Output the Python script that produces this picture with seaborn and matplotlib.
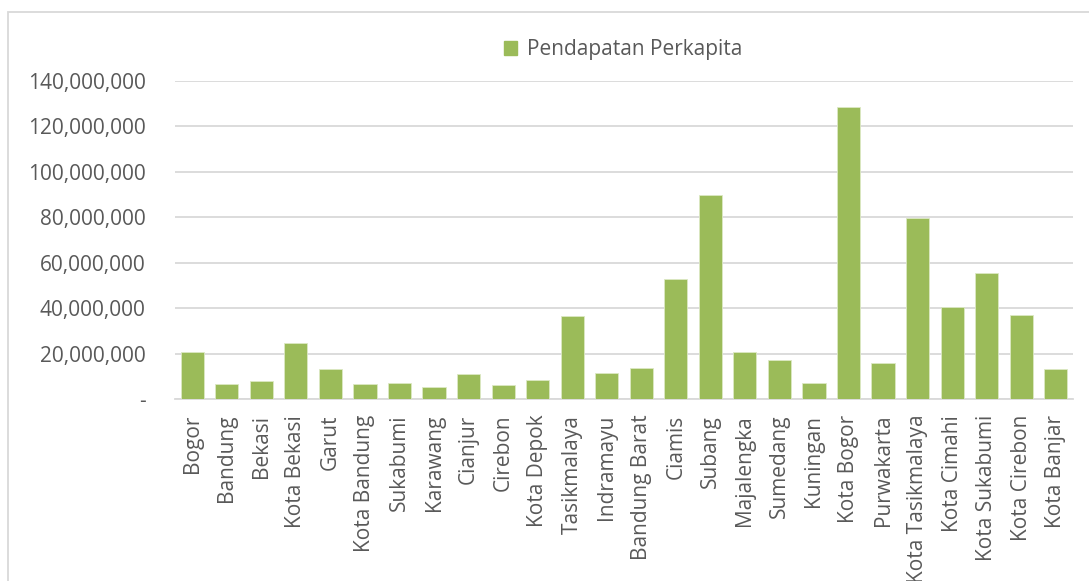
import matplotlib
matplotlib.use("Agg")
import matplotlib.pyplot as plt
import matplotlib.patches as mpatches
import matplotlib.ticker as mticker
import pandas as pd
import seaborn as sns

# Per-capita income by regency / city
regions = [
    "Bogor", "Bandung", "Bekasi", "Kota Bekasi", "Garut", "Kota Bandung",
    "Sukabumi", "Karawang", "Cianjur", "Cirebon", "Kota Depok", "Tasikmalaya",
    "Indramayu", "Bandung Barat", "Ciamis", "Subang", "Majalengka", "Sumedang",
    "Kuningan", "Kota Bogor", "Purwakarta", "Kota Tasikmalaya", "Kota Cimahi",
    "Kota Sukabumi", "Kota Cirebon", "Kota Banjar",
]
income = [
    20_900_000, 6_900_000, 8_300_000, 25_000_000, 13_400_000, 6_700_000,
    7_200_000, 5_500_000, 11_400_000, 6_400_000, 8_400_000, 36_800_000,
    11_800_000, 13_800_000, 52_800_000, 89_900_000, 20_900_000, 17_200_000,
    7_100_000, 128_600_000, 16_200_000, 79_600_000, 40_700_000,
    55_500_000, 37_100_000, 13_300_000,
]
series_name = "Pendapatan Perkapita"
y_ticks = [0, 20_000_000, 40_000_000, 60_000_000, 80_000_000,
           100_000_000, 120_000_000, 140_000_000]

df = pd.DataFrame({"Wilayah": regions, series_name: income})

sns.set_theme(style="white")
plt.rcParams["font.family"] = ["Open Sans", "DejaVu Sans"]

BAR = "#9BBB59"
TEXT = "#595959"
GRID = "#D9D9D9"
FS = 15

fig = plt.figure(figsize=(10.89, 5.81), dpi=100)
ax = fig.add_axes([0.1607, 0.3124, 0.8246, 0.5482])

sns.barplot(data=df, x="Wilayah", y=series_name, color=BAR, saturation=1,
            width=0.67, edgecolor="#DCE8C4", linewidth=0.6, ax=ax, zorder=3)

ax.set_ylim(0, 140_000_000)
ax.set_xlim(-0.5, len(regions) - 0.5)
ax.set_yticks(y_ticks)
ax.yaxis.set_major_formatter(
    mticker.FuncFormatter(lambda v, _: "-" if v == 0 else f"{int(v):,}"))
ax.grid(axis="y", color=GRID, linewidth=1.3, zorder=0)
ax.set_axisbelow(True)
for s in ("top", "right", "left"):
    ax.spines[s].set_visible(False)
ax.spines["bottom"].set_color(GRID)
ax.spines["bottom"].set_linewidth(1.3)

ax.set_xlabel("")
ax.set_ylabel("")
ax.tick_params(axis="y", length=0, pad=21, labelsize=FS, labelcolor=TEXT)
ax.tick_params(axis="x", length=0, pad=11, labelsize=FS, labelcolor=TEXT)
plt.setp(ax.get_xticklabels(), rotation=90, ha="center", va="top")

# legend at the top
handle = mpatches.Patch(color=BAR, label=series_name)
fig.legend(handles=[handle], loc="center", bbox_to_anchor=(0.572, 0.915),
           frameon=False, fontsize=FS, labelcolor=TEXT,
           handlelength=0.65, handleheight=0.65, handletextpad=0.45)

# chart area outline
fig.patches.append(mpatches.Rectangle(
    (8 / 1089, -0.05), 1.2, 1 - 12 / 581 + 0.05, transform=fig.transFigure,
    fill=False, edgecolor="#D9D9D9", linewidth=1.3, zorder=0))

fig.savefig("out.png", dpi=100, facecolor="white")
